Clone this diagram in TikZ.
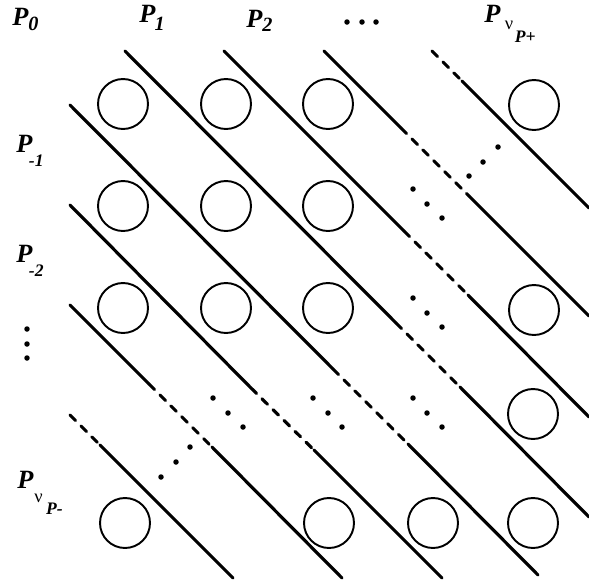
\documentclass[tikz,border=0pt]{standalone}
\usepackage{fontspec}
\setmainfont{Liberation Serif}
\usepackage{tikz}
\usetikzlibrary{calc,positioning}

\begin{document}
\begin{tikzpicture}[x=0.02cm, y=-0.02cm,
  cell/.style={draw, circle, minimum size=1cm, inner sep=0pt, line width=1.1pt},
  wire/.style={line width=1.8pt, line cap=round},
  dashwire/.style={wire, dash pattern=on 4.4pt off 4.4pt},
  blob/.style={circle, fill=black, inner sep=0pt, minimum size=0.11cm},
  lab/.style={anchor=base west, inner sep=0pt, font=\bfseries\itshape\fontsize{15}{15}\selectfont}]
\useasboundingbox (0,0) rectangle (589,582);

% Labels of the columns (top) and of the rows (left)
\node[lab] (p0) at (12,25) {P\raisebox{-3.4pt}{\fontsize{11.5}{11.5}\selectfont 0}};
\node[lab] (p1) at (139,22) {P\kern-0.5pt\raisebox{-5pt}{\fontsize{11.5}{11.5}\selectfont 1}};
\node[lab] (p2) at (246,27) {P\raisebox{-2.8pt}{\fontsize{11.5}{11.5}\selectfont 2}};
\node[lab] (pplus) at (484,22) {P\kern2.5pt\raisebox{-4.5pt}{\upshape\mdseries\fontsize{10.5}{10.5}\selectfont ν}\kern1pt\raisebox{-11.5pt}{\fontsize{10}{10}\selectfont P+}};
\node[lab] (pm1) at (16,152) {P\kern-2pt\raisebox{-8.5pt}{\fontsize{10}{10}\selectfont -1}};
\node[lab] (pm2) at (16,262) {P\kern-2pt\raisebox{-8.5pt}{\fontsize{10}{10}\selectfont -2}};
\node[lab] (pminus) at (17,488) {P\kern0.5pt\raisebox{-8.5pt}{\upshape\mdseries\fontsize{10.5}{10.5}\selectfont ν}\kern2pt\raisebox{-15pt}{\fontsize{10}{10}\selectfont P-}};

% Circles, row by row
\node[cell] (c11) at (123,104) {};
\node[cell] (c12) at (226,104) {};
\node[cell] (c13) at (328,104) {};
\node[cell] (c15) at (534,105) {};
\node[cell] (c21) at (123,206) {};
\node[cell] (c22) at (226,206) {};
\node[cell] (c23) at (328,206) {};
\node[cell] (c31) at (123,308) {};
\node[cell] (c32) at (226,308) {};
\node[cell] (c33) at (328,308) {};
\node[cell] (c35) at (534,310) {};
\node[cell] (c45) at (533,414) {};
\node[cell] (c51) at (125,523) {};
\node[cell] (c53) at (329,523) {};
\node[cell] (c54) at (433,523) {};
\node[cell] (c55) at (533,523) {};

% Diagonal lines, solid parts and dashed gaps
\draw[dashwire] (432,51) -- (462,81);
\draw[wire] (462,81) -- (589,208);

\draw[wire] (324,51) -- (401,128);
\draw[dashwire] (401,128) -- (469,196);
\draw[wire] (469,196) -- (589,316);

\draw[wire] (224,51) -- (404,231);
\draw[dashwire] (404,231) -- (468,295);
\draw[wire] (468,295) -- (589,417);

\draw[wire] (125,51) -- (396,323);
\draw[dashwire] (396,323) -- (460,387);
\draw[wire] (460,387) -- (589,517);

\draw[wire] (70,105) -- (333,369);
\draw[dashwire] (333,369) -- (408,444);
\draw[wire] (408,444) -- (538,575);

\draw[wire] (70,205) -- (251,388);
\draw[dashwire] (251,388) -- (314,450);
\draw[wire] (314,450) -- (442,578);

\draw[wire] (70,305) -- (149,384);
\draw[dashwire] (149,384) -- (212,447);
\draw[wire] (212,447) -- (342,578);

\draw[dashwire] (70,415) -- (100,445);
\draw[wire] (100,445) -- (233,578);

% Ellipsis dots
\node[blob] (t1) at (347,22) {};
\node[blob] (t2) at (362,22) {};
\node[blob] (t3) at (376,22) {};

\node[blob] (v1) at (27,329) {};
\node[blob] (v2) at (27,344) {};
\node[blob] (v3) at (27,358) {};

\node[blob] (a1) at (469,176) {};
\node[blob] (a2) at (483,162) {};
\node[blob] (a3) at (498,147) {};

\node[blob] (b1) at (413,189) {};
\node[blob] (b2) at (427,204) {};
\node[blob] (b3) at (442,218) {};

\node[blob] (d1) at (413,298) {};
\node[blob] (d2) at (427,313) {};
\node[blob] (d3) at (442,327) {};

\node[blob] (e1) at (213,398) {};
\node[blob] (e2) at (228,413) {};
\node[blob] (e3) at (243,427) {};

\node[blob] (f1) at (313,398) {};
\node[blob] (f2) at (328,413) {};
\node[blob] (f3) at (342,427) {};

\node[blob] (g1) at (413,398) {};
\node[blob] (g2) at (427,413) {};
\node[blob] (g3) at (442,427) {};

\node[blob] (h1) at (161,477) {};
\node[blob] (h2) at (176,462) {};
\node[blob] (h3) at (190,447) {};

\end{tikzpicture}
\end{document}
